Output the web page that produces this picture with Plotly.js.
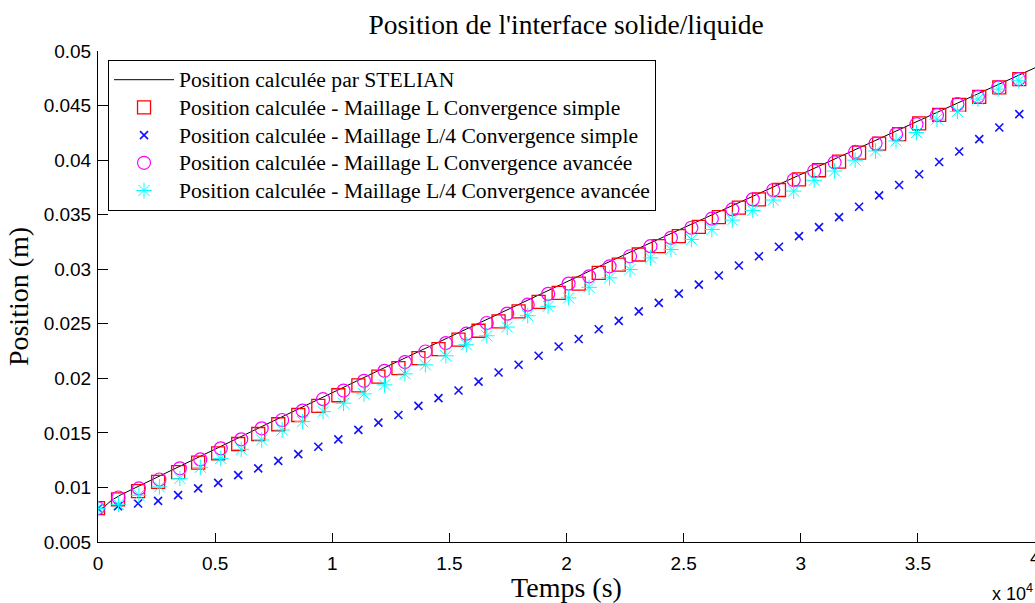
<!DOCTYPE html>
<html>
<head>
<meta charset="utf-8">
<script src="https://cdn.plot.ly/plotly-3.0.1.min.js"></script>
<style>
html,body{margin:0;padding:0;background:#fff;overflow:hidden;}
#chart{width:1035px;height:603px;}
</style>
</head>
<body>
<div id="chart"></div>
<script>
// ---- Data ----
// Reference curve "Position calculée par STELIAN"
const lineTime = [0, 250, 400, 600, 1000, 2000, 3000, 4000, 5000, 6000, 7000, 8000, 9000, 10000, 12000, 14000, 16000, 18000, 20000, 22000, 24000, 26000, 28000, 30000, 32000, 34000, 36000, 38000, 40000];
const linePos  = [0.0080, 0.00815, 0.0085, 0.00885, 0.00935, 0.01040, 0.01144, 0.01248, 0.01352, 0.01455, 0.01559, 0.01662, 0.01766, 0.01870, 0.02074, 0.02277, 0.02481, 0.02683, 0.02888, 0.03086, 0.03282, 0.03478, 0.03674, 0.03870, 0.04065, 0.04261, 0.04456, 0.04651, 0.04846];

// Times of the "Convergence simple" samples
const timeSimple = [0, 855, 1710, 2565, 3420, 4275, 5130, 5985, 6840, 7695, 8550, 9405, 10260, 11115, 11970, 12825, 13680, 14535, 15390, 16245, 17100, 17955, 18810, 19665, 20520, 21375, 22230, 23085, 23940, 24795, 25650, 26505, 27360, 28215, 29070, 29925, 30780, 31635, 32490, 33345, 34200, 35055, 35910, 36765, 37620, 38475, 39330];
// Maillage L, Convergence simple
const posLSimple = [0.0081, 0.0089, 0.00966, 0.01051, 0.01140, 0.01228, 0.01312, 0.01398, 0.01490, 0.01579, 0.01664, 0.01748, 0.01845, 0.01935, 0.02016, 0.02094, 0.02185, 0.02268, 0.02354, 0.02436, 0.02522, 0.02614, 0.02700, 0.02783, 0.02868, 0.02967, 0.03043, 0.03135, 0.03211, 0.03303, 0.03389, 0.03478, 0.03564, 0.03640, 0.03726, 0.03824, 0.03907, 0.03987, 0.04069, 0.04152, 0.04238, 0.04336, 0.04415, 0.04507, 0.04580, 0.04667, 0.04743];
// Maillage L/4, Convergence simple
const posL4Simple = [0.00807, 0.00828, 0.00853, 0.00877, 0.00929, 0.00991, 0.01042, 0.01113, 0.01175, 0.01244, 0.01306, 0.01373, 0.01441, 0.01527, 0.01594, 0.01664, 0.01747, 0.01818, 0.01888, 0.01970, 0.02053, 0.02124, 0.02207, 0.02292, 0.02360, 0.02450, 0.02527, 0.02614, 0.02691, 0.02776, 0.02859, 0.02942, 0.03034, 0.03119, 0.03206, 0.03303, 0.03386, 0.03478, 0.03573, 0.03677, 0.03772, 0.03870, 0.03983, 0.04079, 0.04192, 0.04299, 0.04421];

// Times of the "Convergence avancée" samples
const timeAdv = [0, 874, 1747, 2621, 3494, 4368, 5241, 6115, 6988, 7862, 8735, 9609, 10482, 11356, 12229, 13103, 13976, 14850, 15723, 16597, 17470, 18344, 19217, 20091, 20964, 21838, 22711, 23585, 24458, 25332, 26205, 27079, 27952, 28826, 29699, 30573, 31446, 32320, 33193, 34067, 34940, 35814, 36687, 37561, 38434, 39308];
// Maillage L, Convergence avancée
const posLAdv = [0.0081, 0.00908, 0.00991, 0.01073, 0.01175, 0.01257, 0.01358, 0.01441, 0.01542, 0.01618, 0.01704, 0.01809, 0.01888, 0.01977, 0.02069, 0.02149, 0.02246, 0.02323, 0.02409, 0.02507, 0.02593, 0.02675, 0.02774, 0.02868, 0.02935, 0.03027, 0.03119, 0.03211, 0.03288, 0.03380, 0.03463, 0.03548, 0.03640, 0.03726, 0.03818, 0.03900, 0.03978, 0.04075, 0.04152, 0.04238, 0.04329, 0.04412, 0.04513, 0.04580, 0.04667, 0.04743];
// Maillage L/4, Convergence avancée
const posL4Adv = [0.00807, 0.00846, 0.00929, 0.01005, 0.01083, 0.01184, 0.01266, 0.01349, 0.01435, 0.01527, 0.01603, 0.01695, 0.01772, 0.01857, 0.01940, 0.02041, 0.02124, 0.02207, 0.02308, 0.02390, 0.02470, 0.02574, 0.02660, 0.02737, 0.02834, 0.02921, 0.02997, 0.03104, 0.03181, 0.03273, 0.03364, 0.03450, 0.03539, 0.03634, 0.03716, 0.03815, 0.03900, 0.03999, 0.04084, 0.04176, 0.04253, 0.04375, 0.04446, 0.04559, 0.04651, 0.04727];

const seriesNames = [
  'Position calculée par STELIAN',
  'Position calculée - Maillage L Convergence simple',
  'Position calculée - Maillage L/4 Convergence simple',
  'Position calculée - Maillage L Convergence avancée',
  'Position calculée - Maillage L/4 Convergence avancée'
];

const xTickVals = [0, 5000, 10000, 15000, 20000, 25000, 30000, 35000];
const xTickText = ['0', '0.5', '1', '1.5', '2', '2.5', '3', '3.5'];
const xLastTickVal = 40000;
const xLastTickText = '4';
const yTickVals = [0.005, 0.01, 0.015, 0.02, 0.025, 0.03, 0.035, 0.04, 0.045, 0.05];
const yTickText = ['0.005', '0.01', '0.015', '0.02', '0.025', '0.03', '0.035', '0.04', '0.045', '0.05'];

const titleText = "Position de l'interface solide/liquide";
const xTitle = 'Temps (s)';
const yTitle = 'Position (m)';
const xExponent = 'x 10<sup>4</sup>';

// ---- Traces ----
const serif = 'Liberation Serif, Times New Roman, serif';
const sans = 'Liberation Sans, Arial, sans-serif';
// legend rows are spaced from the legend font size; the text itself is drawn a bit larger
const legendName = s => '<span style="font-size:21.6px">' + s + '</span>';

const traces = [
  {x: lineTime, y: linePos, name: legendName(seriesNames[0]), mode: 'lines',
   line: {color: '#000000', width: 1}},
  {x: timeSimple, y: posLSimple, name: legendName(seriesNames[1]), mode: 'markers',
   marker: {symbol: 'square-open', size: 13, color: '#ff0000', line: {width: 1.3, color: '#ff0000'}}},
  {x: timeSimple, y: posL4Simple, name: legendName(seriesNames[2]), mode: 'markers',
   marker: {symbol: 'x-thin-open', size: 8, color: '#1010ff', line: {width: 1.6, color: '#1010ff'}}},
  {x: timeAdv, y: posLAdv, name: legendName(seriesNames[3]), mode: 'markers',
   marker: {symbol: 'circle-open', size: 13, color: '#ff00ff', line: {width: 1.2, color: '#ff00ff'}}},
  {x: timeAdv, y: posL4Adv, name: legendName(seriesNames[4]), mode: 'markers',
   marker: {symbol: 'asterisk-open', size: 13, color: '#00ffff', line: {width: 1, color: '#00ffff'}}}
];

const layout = {
  width: 1035, height: 603,
  margin: {l: 98, r: 0, t: 51, b: 61, pad: 0},
  paper_bgcolor: '#ffffff', plot_bgcolor: '#ffffff',
  showlegend: true,
  title: {text: titleText, font: {family: serif, size: 27.5, color: '#000'},
          x: 0.547, xref: 'container', xanchor: 'center', y: 0.96, yref: 'container', yanchor: 'middle'},
  xaxis: {
    range: [0, 40000], tickvals: xTickVals, ticktext: xTickText,
    ticks: 'inside', ticklen: 9, tickcolor: '#000', tickwidth: 1,
    showline: true, linecolor: '#000', linewidth: 1, mirror: false,
    showgrid: false, zeroline: false, ticklabelstandoff: 4,
    tickfont: {family: sans, size: 19, color: '#000'},
    title: {text: xTitle, font: {family: serif, size: 28, color: '#000'}, standoff: 14},
    automargin: false
  },
  yaxis: {
    range: [0.005, 0.05], tickvals: yTickVals, ticktext: yTickText,
    ticks: 'inside', ticklen: 10, tickcolor: '#000', tickwidth: 1,
    showline: true, linecolor: '#000', linewidth: 1, mirror: false,
    showgrid: false, zeroline: false, ticklabelstandoff: 2,
    tickfont: {family: sans, size: 19, color: '#000'},
    title: {text: yTitle, font: {family: serif, size: 28, color: '#000'}, standoff: 6},
    automargin: false
  },
  legend: {
    x: 0.0107, y: 0.982, xanchor: 'left', yanchor: 'top',
    bgcolor: '#ffffff', bordercolor: '#000000', borderwidth: 1,
    font: {family: serif, size: 19, color: '#000'},
    itemwidth: 60, itemsizing: 'trace'
  },
  annotations: [
    {text: xLastTickText, xref: 'x', yref: 'paper', x: xLastTickVal, y: 0, xanchor: 'center', yanchor: 'top',
     yshift: -3, showarrow: false, font: {family: sans, size: 19, color: '#000'}},
    {text: xExponent, xref: 'paper', yref: 'paper', x: 1, y: 0, xanchor: 'right', yanchor: 'top',
     yshift: -37, showarrow: false, font: {family: sans, size: 18, color: '#000'}}
  ]
};

Plotly.newPlot('chart', traces, layout, {displayModeBar: false, staticPlot: true});
</script>
</body>
</html>
